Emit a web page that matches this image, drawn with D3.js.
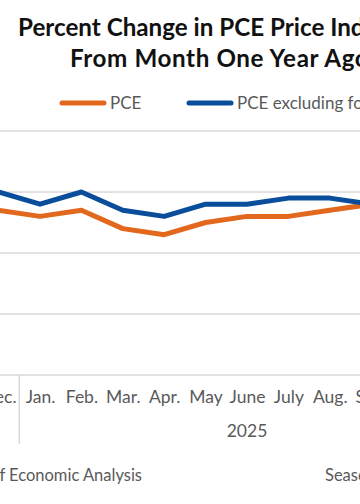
<!DOCTYPE html>
<html>
<head>
<meta charset="utf-8">
<script src="https://cdn.jsdelivr.net/npm/d3@7"></script>
<style>
  body { margin: 0; background: #fff; }
  svg { display: block; font-family: Lato, "Open Sans", sans-serif; }
</style>
</head>
<body>
<svg id="chart"></svg>
<script>
// data (cropped view, Dec. 2024 - Sep. 2025)
const months = ["Dec.", "Jan.", "Feb.", "Mar.", "Apr.", "May", "June", "July", "Aug.", "Sep."];
const pce = [2.7, 2.6, 2.7, 2.4, 2.3, 2.5, 2.6, 2.6, 2.7, 2.8];
const pceCore = [3.0, 2.8, 3.0, 2.7, 2.6, 2.8, 2.8, 2.9, 2.9, 2.8];
const yTicks = [0, 1, 2, 3, 4];
const titleLines = ["Percent Change in PCE Price Index", "From Month One Year Ago"];

const width = 360, height = 504;
const orange = "#e1681d", blue = "#0a4d9b", grey = "#595959", gridCol = "#d9d9d9";

const svg = d3.select("#chart").attr("width", width).attr("height", height);

const x = d3.scalePoint().domain(months).range([-1.4, -1.4 + 41.4 * (months.length - 1)]);
const y = d3.scaleLinear().domain([0, 4]).range([375, 131]);

// title
svg.append("text").attr("x", 18).attr("y", 36)
    .attr("font-size", 24.2).attr("font-weight", "bold").attr("fill", "#111")
    .text(titleLines[0]);
svg.append("text").attr("x", 70).attr("y", 67)
    .attr("font-size", 24.2).attr("font-weight", "bold").attr("fill", "#111")
    .attr("letter-spacing", 0.6)
    .text(titleLines[1]);

// legend
const legend = [
  {name: "PCE", color: orange, x: 60},
  {name: "PCE excluding food and energy", color: blue, x: 187}
];
const lg = svg.selectAll(".legend").data(legend).join("g").attr("class", "legend");
lg.append("line")
    .attr("x1", d => d.x + 2).attr("x2", d => d.x + 44)
    .attr("y1", 103).attr("y2", 103)
    .attr("stroke", d => d.color).attr("stroke-width", 5).attr("stroke-linecap", "round");
lg.append("text")
    .attr("x", d => d.x + 50).attr("y", 109)
    .attr("font-size", 17).attr("fill", grey)
    .text(d => d.name);

// gridlines
svg.append("g").selectAll("line")
    .data(yTicks)
  .join("line")
    .attr("x1", 0).attr("x2", width)
    .attr("y1", d => y(d)).attr("y2", d => y(d))
    .attr("stroke", gridCol).attr("stroke-width", 1.5);

// x axis labels
const xAxis = d3.axisBottom(x).tickSize(0).tickPadding(0);
svg.append("g")
    .attr("transform", `translate(0,${y(0)})`)
    .call(xAxis)
    .call(g => g.select(".domain").remove())
    .call(g => g.selectAll("text")
        .attr("dy", 0).attr("y", 28)
        .attr("font-family", "Lato, 'Open Sans', sans-serif")
        .attr("font-size", 17.5).attr("fill", grey));

// year separator between Dec. and Jan.
const sepX = (x("Dec.") + x("Jan.")) / 2;
svg.append("line")
    .attr("x1", sepX).attr("x2", sepX)
    .attr("y1", y(0)).attr("y2", y(0) + 69)
    .attr("stroke", gridCol).attr("stroke-width", 1.5);

svg.append("text")
    .attr("x", x("June")).attr("y", 437)
    .attr("text-anchor", "middle")
    .attr("font-size", 17.5).attr("fill", grey)
    .text("2025");

// lines
const line = d3.line().x((d, i) => x(months[i])).y(d => y(d));
svg.append("path").datum(pce)
    .attr("d", line).attr("fill", "none")
    .attr("stroke", orange).attr("stroke-width", 5).attr("stroke-linejoin", "round");
svg.append("path").datum(pceCore)
    .attr("d", line).attr("fill", "none")
    .attr("stroke", blue).attr("stroke-width", 5).attr("stroke-linejoin", "round");

// footer
svg.append("text")
    .attr("x", 142).attr("y", 481)
    .attr("text-anchor", "end")
    .attr("font-size", 16.5).attr("fill", grey)
    .text("Source: U.S. Bureau of Economic Analysis");
svg.append("text")
    .attr("x", 325).attr("y", 481)
    .attr("font-size", 16.5).attr("fill", grey)
    .text("Seasonally adjusted");
</script>
</body>
</html>
